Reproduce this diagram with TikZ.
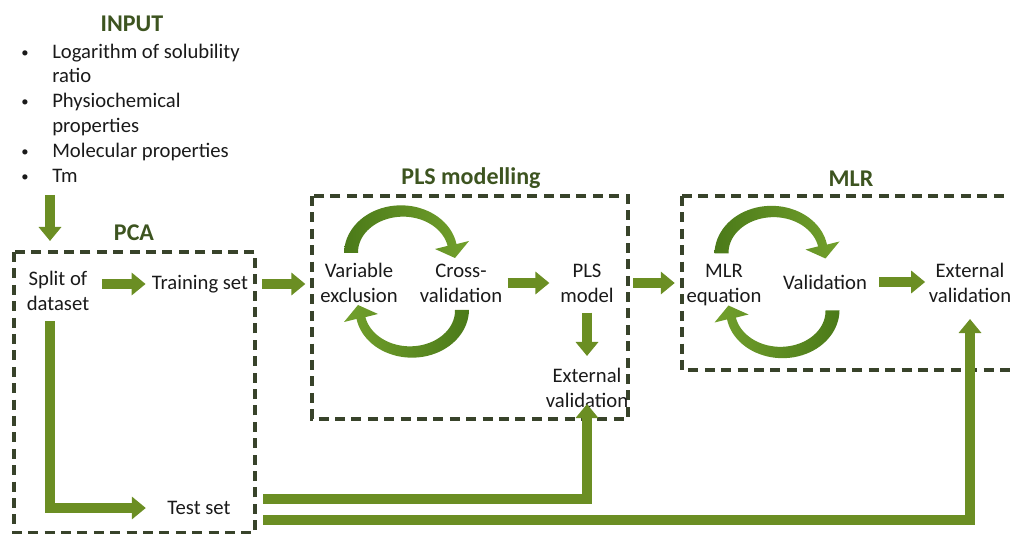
\documentclass[tikz,border=0pt]{standalone}
\usepackage{fontspec}
\setmainfont{Carlito}
\usetikzlibrary{arrows.meta}
\definecolor{grn}{HTML}{6B8E23}
\definecolor{dgrn}{HTML}{4B7A19}
\definecolor{lgrn}{HTML}{72A02C}
\definecolor{boxc}{HTML}{38432A}
\definecolor{hdr}{HTML}{3D5420}
\definecolor{txt}{HTML}{1A1A1A}
% tapered circular arrow (upper half of a pair), drawn relative to the pair centre
% #1 = colour at the left, #2 = colour at the right
\newcommand\cycarrow[2]{%
  \shade[left color=#1, right color=#2]
    plot[domain=180:11,samples=40,variable=\t]
      ({-4.5+(51+4.5+2.5*(\t-11)/169)*cos(\t)},{-28.5-(42+4.5+2.5*(\t-11)/169)*sin(\t)})
    -- (62.5,-40.5) -- (48.5,-23.5) -- (28.5,-32.5)
    -- plot[domain=11:180,samples=40,variable=\t]
      ({-4.5+(51-4.5-2.5*(\t-11)/169)*cos(\t)},{-28.5-(42-4.5-2.5*(\t-11)/169)*sin(\t)})
    -- cycle;}
\begin{document}
\begin{tikzpicture}[x=0.75pt,y=-0.75pt,
  lbl/.style={text=txt, font=\fontsize{15.5}{18.75}\selectfont, inner sep=0pt, align=center},
  bul/.style={text=txt, font=\fontsize{11}{12}\selectfont, inner sep=0pt},
  hd/.style={text=hdr, font=\bfseries\fontsize{18}{21}\selectfont, inner sep=0pt},
  arr/.style={draw=grn, line width=7.5pt, -{Triangle[length=10.5pt,width=16.5pt]}},
  dbox/.style={draw=boxc, line width=2.4pt, dash pattern=on 7.5pt off 4.8pt}]
\useasboundingbox (0,0) rectangle (1010,534);

% ---------------- INPUT ----------------
\node[hd] (input) at (132,24) {INPUT};
\node[bul, anchor=base] (b1) at (25,58) {•};
\node[bul, anchor=base] (b2) at (25,107) {•};
\node[bul, anchor=base] (b3) at (25,157) {•};
\node[bul, anchor=base] (b4) at (25,182) {•};
\node[lbl, anchor=base west] (l1) at (52,59) {Logarithm of solubility};
\node[lbl, anchor=base west] (l1b) at (52,83) {ratio};
\node[lbl, anchor=base west] (l2) at (52,108) {Physiochemical};
\node[lbl, anchor=base west] (l2b) at (52,133) {properties};
\node[lbl, anchor=base west] (l3) at (52,158) {Molecular properties};
\node[lbl, anchor=base west] (l4) at (52,183) {Tm};
\coordinate (inA) at (50,195);
\coordinate (inB) at (50,241);
\draw[arr] (inA) -- (inB);

% ---------------- PCA ----------------
\node[hd] (pca) at (134,233) {PCA};
\draw[dbox] (14,252) rectangle (255,533);
\node[lbl] (split) at (58,291) {Split of\\dataset};
\node[lbl] (train) at (200,284) {Training set};
\node[lbl] (test) at (199,508) {Test set};
\draw[arr, shorten <=9.4pt, shorten >=4.5pt] (split.east |- train.west) -- (train.west);
\draw[arr, shorten <=7.5pt, shorten >=16pt] (split.south -| inA) |- (test.west);

% ---------------- PLS ----------------
\node[hd] (plsh) at (471,178) {PLS modelling};
\draw[dbox] (312,196) rectangle (628,419);
\node[lbl] (var) at (359,283) {Variable\\exclusion};
\node[lbl] (cross) at (461,283) {Cross-\\validation};
\node[lbl] (plsm) at (587,283) {PLS\\model};
\node[lbl] (ext1) at (587,388) {External\\validation};
\begin{scope}[shift={(406.5,281.5)}]
  \cycarrow{dgrn}{lgrn}
\end{scope}
\begin{scope}[shift={(406.5,281.5)}, rotate=180]
  \cycarrow{lgrn}{dgrn}
\end{scope}
\draw[arr, shorten <=10.5pt, shorten >=11pt] (train.east) -- (train.east -| var.west);
\draw[arr, shorten <=4pt, shorten >=8pt] (cross.east) -- (cross.east -| plsm.west);
\draw[arr, shorten <=7.5pt, shorten >=9pt] (plsm.south) -- (ext1.north);

% ---------------- MLR ----------------
\node[hd] (mlrh) at (851,179) {MLR};
\draw[dbox] (682,196) -- (1040,196) (682,196) -- (682,370) -- (1040,370);
\node[lbl] (mlreq) at (724,285) {MLR\\equation};
\node[lbl] (valid) at (825,282) {Validation};
\node[lbl] (ext2) at (970,283) {External\\validation};
\begin{scope}[shift={(777,282)}]
  \cycarrow{dgrn}{lgrn}
\end{scope}
\begin{scope}[shift={(777,282)}, rotate=180]
  \cycarrow{lgrn}{dgrn}
\end{scope}
\draw[arr, shorten <=14.6pt, shorten >=8.6pt] (plsm.east) -- (plsm.east -| mlreq.west);
\draw[arr, shorten <=9pt, shorten >=2.6pt] (valid.east) -- (valid.east -| ext2.west);

% ---------------- test set connectors ----------------
\coordinate (t1) at (263,499);
\coordinate (t2) at (263,520);
\draw[arr, shorten >=-3pt] (t1) -| (ext1.south);
\draw[arr, shorten >=12pt] (t2) -| (ext2.south);
\end{tikzpicture}
\end{document}
